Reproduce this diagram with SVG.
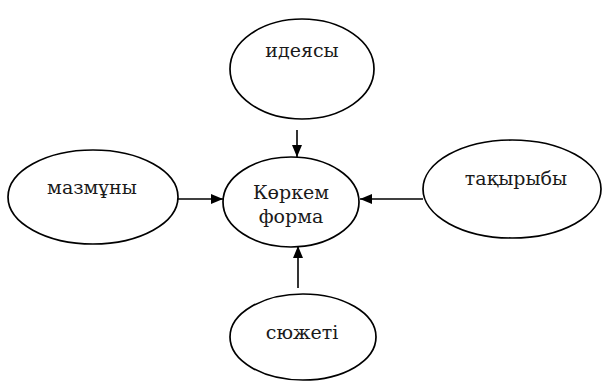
<svg xmlns="http://www.w3.org/2000/svg" width="608" height="382" viewBox="0 0 608 382">
  <style>
    .node ellipse { fill: #fff; stroke: #000; stroke-width: 1.7; }
    .node text { font-family: 'DejaVu Serif', serif; font-size: 19px; fill: #1a1a1a; text-anchor: middle; }
    .edges line { stroke: #000; stroke-width: 1.6; marker-end: url(#arrow); }
  </style>
  <defs>
    <!-- filled triangular arrowhead, tip at the line end -->
    <marker id="arrow" viewBox="0 0 12 10" refX="12" refY="5" markerUnits="userSpaceOnUse" markerWidth="12" markerHeight="10" orient="auto">
      <path d="M0,0 L12,5 L0,10 z" fill="#000"/>
    </marker>
  </defs>
  <rect width="608" height="382" fill="#fff"/>

  <g class="edges">
    <line x1="297" y1="130" x2="297" y2="157"/>
    <line x1="172" y1="199" x2="223" y2="199"/>
    <line x1="423" y1="199" x2="360" y2="199"/>
    <line x1="298" y1="288" x2="298" y2="246"/>
  </g>

  <g id="idea" class="node">
    <ellipse cx="302" cy="69" rx="72" ry="50"/>
    <text x="302" y="57">идеясы</text>
  </g>
  <g id="form" class="node">
    <ellipse cx="291" cy="202" rx="68" ry="45"/>
    <text x="291" y="199">Көркем</text>
    <text x="291" y="223">форма</text>
  </g>
  <g id="content" class="node">
    <ellipse cx="93" cy="197" rx="85" ry="47"/>
    <text x="92" y="194">мазмұны</text>
  </g>
  <g id="theme" class="node">
    <ellipse cx="512" cy="189" rx="89" ry="49"/>
    <text x="516" y="185">тақырыбы</text>
  </g>
  <g id="plot" class="node">
    <ellipse cx="303" cy="337" rx="73" ry="43"/>
    <text x="302" y="339">сюжеті</text>
  </g>
</svg>
